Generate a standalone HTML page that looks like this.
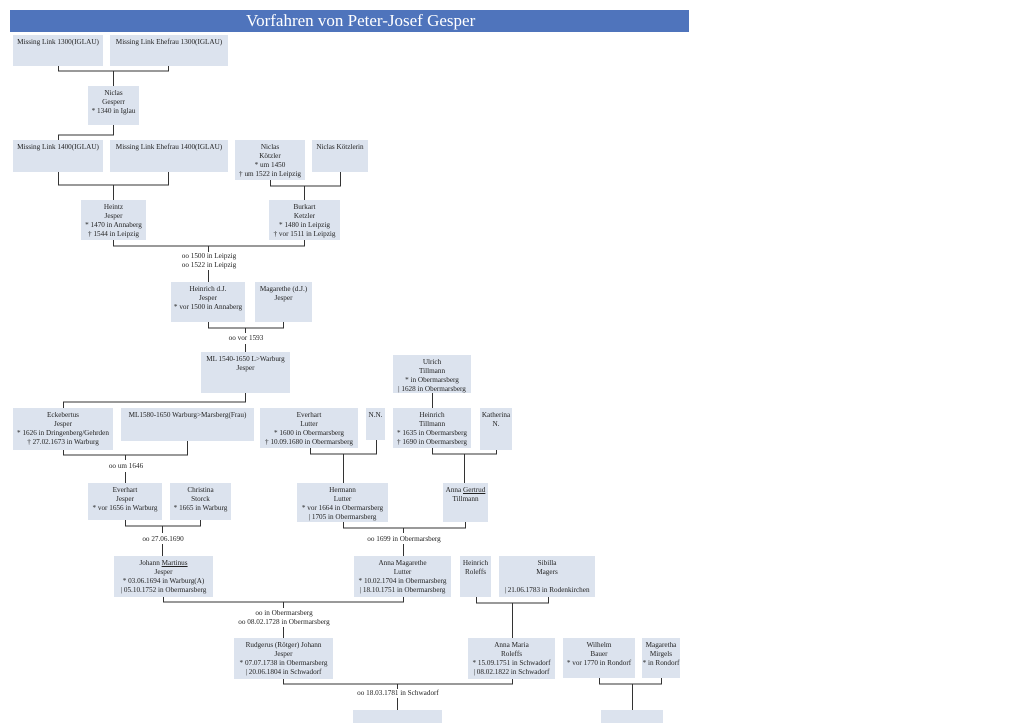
<!DOCTYPE html>
<html><head><meta charset="utf-8"><style>
body{margin:0;background:#fff;width:1024px;height:723px;position:relative;overflow:hidden;font-family:"Liberation Serif",serif;}
.h{position:absolute;left:10px;top:10px;width:679px;height:22px;background:#4f74bc;}
.h span{position:absolute;left:236px;top:1px;color:#fff;font-size:17px;}
.b{position:absolute;background:#dce3ee;font-size:7.2px;line-height:9px;text-align:center;color:#222;padding-top:3px;box-sizing:border-box;white-space:nowrap;}
.l{position:absolute;font-size:7.2px;line-height:9px;text-align:center;color:#222;white-space:nowrap;transform:translateX(-50%);background:#fff;}
svg{position:absolute;left:0;top:0;}
</style></head><body>
<div class="h"><span>Vorfahren von Peter-Josef Gesper</span></div>
<svg width="1024" height="723" stroke="#333" stroke-width="1" fill="none">
<path d="M58.5 66v5h110v-5M113.5 71v15"/>
<path d="M113.5 125v10h-55v5"/>
<path d="M58.5 172v13h110v-13M113.5 185v15"/>
<path d="M270.5 180v6h70v-14M304.5 186v14"/>
<path d="M113.5 240v6h191v-6M208.5 246v6M208.5 270v12"/>
<path d="M208.5 322v6h75v-6M245.5 328v5M245.5 344v8"/>
<path d="M245.5 393v9h-182v6"/>
<path d="M432.5 393v15"/>
<path d="M63.5 450v5h124v-14M125.5 455v5M125.5 472v11"/>
<path d="M310.5 448v6h66v-14M343.5 454v29"/>
<path d="M432.5 448v6h64v-4M464.5 454v29"/>
<path d="M125.5 520v6h75v-6M162.5 526v7M162.5 544v12"/>
<path d="M343.5 522v6h122v-6M403.5 528v5M403.5 544v12"/>
<path d="M163.5 597v5h240v-5M283.5 602v6M283.5 627v11"/>
<path d="M476.5 597v6h72v-6M512.5 603v35"/>
<path d="M283.5 679v5h229v-5M397.5 684v5M397.5 698v12"/>
<path d="M599.5 678v6h62v-6M632.5 684v26"/>
</svg>
<div class="b" style="left:13px;top:35px;width:90px;height:31px">Missing Link 1300(IGLAU)</div>
<div class="b" style="left:110px;top:35px;width:118px;height:31px">Missing Link Ehefrau 1300(IGLAU)</div>
<div class="b" style="left:88px;top:86px;width:51px;height:39px">Niclas<br>Gesperr<br>* 1340 in Iglau</div>
<div class="b" style="left:13px;top:140px;width:90px;height:32px">Missing Link 1400(IGLAU)</div>
<div class="b" style="left:110px;top:140px;width:118px;height:32px">Missing Link Ehefrau 1400(IGLAU)</div>
<div class="b" style="left:235px;top:140px;width:70px;height:40px">Niclas<br>Kötzler<br>* um 1450<br>† um 1522 in Leipzig</div>
<div class="b" style="left:312px;top:140px;width:56px;height:32px">Niclas Kötzlerin</div>
<div class="b" style="left:81px;top:200px;width:65px;height:40px">Heintz<br>Jesper<br>* 1470 in Annaberg<br>† 1544 in Leipzig</div>
<div class="b" style="left:269px;top:200px;width:71px;height:40px">Burkart<br>Ketzler<br>* 1480 in Leipzig<br>† vor 1511 in Leipzig</div>
<div class="l" style="left:209px;top:252px">oo 1500 in Leipzig<br>oo 1522 in Leipzig</div>
<div class="b" style="left:171px;top:282px;width:74px;height:40px">Heinrich d.J.<br>Jesper<br>* vor 1500 in Annaberg</div>
<div class="b" style="left:255px;top:282px;width:57px;height:40px">Magarethe (d.J.)<br>Jesper</div>
<div class="l" style="left:246px;top:334px">oo vor 1593</div>
<div class="b" style="left:201px;top:352px;width:89px;height:41px">ML 1540-1650 L&gt;Warburg<br>Jesper</div>
<div class="b" style="left:393px;top:355px;width:78px;height:38px">Ulrich<br>Tillmann<br>* in Obermarsberg<br>| 1628 in Obermarsberg</div>
<div class="b" style="left:13px;top:408px;width:100px;height:42px">Eckebertus<br>Jesper<br>* 1626 in Dringenberg/Gehrden<br>† 27.02.1673 in Warburg</div>
<div class="b" style="left:121px;top:408px;width:133px;height:33px">ML1580-1650 Warburg&gt;Marsberg(Frau)</div>
<div class="b" style="left:260px;top:408px;width:98px;height:40px">Everhart<br>Lutter<br>* 1600 in Obermarsberg<br>† 10.09.1680 in Obermarsberg</div>
<div class="b" style="left:366px;top:408px;width:19px;height:32px">N.N.</div>
<div class="b" style="left:393px;top:408px;width:78px;height:40px">Heinrich<br>Tillmann<br>* 1635 in Obermarsberg<br>† 1690 in Obermarsberg</div>
<div class="b" style="left:480px;top:408px;width:32px;height:42px">Katherina<br>N.</div>
<div class="l" style="left:126px;top:462px">oo um 1646</div>
<div class="b" style="left:88px;top:483px;width:74px;height:37px">Everhart<br>Jesper<br>* vor 1656 in Warburg</div>
<div class="b" style="left:170px;top:483px;width:61px;height:37px">Christina<br>Storck<br>* 1665 in Warburg</div>
<div class="b" style="left:297px;top:483px;width:91px;height:39px">Hermann<br>Lutter<br>* vor 1664 in Obermarsberg<br>| 1705 in Obermarsberg</div>
<div class="b" style="left:443px;top:483px;width:45px;height:39px">Anna <u>Gertrud</u><br>Tillmann</div>
<div class="l" style="left:163px;top:535px">oo 27.06.1690</div>
<div class="l" style="left:404px;top:535px">oo 1699 in Obermarsberg</div>
<div class="b" style="left:114px;top:556px;width:99px;height:41px">Johann <u>Martinus</u><br>Jesper<br>* 03.06.1694 in Warburg(A)<br>| 05.10.1752 in Obermarsberg</div>
<div class="b" style="left:354px;top:556px;width:97px;height:41px">Anna Magarethe<br>Lutter<br>* 10.02.1704 in Obermarsberg<br>| 18.10.1751 in Obermarsberg</div>
<div class="b" style="left:460px;top:556px;width:31px;height:41px">Heinrich<br>Roleffs</div>
<div class="b" style="left:499px;top:556px;width:96px;height:41px">Sibilla<br>Magers<br><br>| 21.06.1783 in Rodenkirchen</div>
<div class="l" style="left:284px;top:609px">oo in Obermarsberg<br>oo 08.02.1728 in Obermarsberg</div>
<div class="b" style="left:234px;top:638px;width:99px;height:41px">Rudgerus (Rötger) Johann<br>Jesper<br>* 07.07.1738 in Obermarsberg<br>| 20.06.1804 in Schwadorf</div>
<div class="b" style="left:468px;top:638px;width:87px;height:41px">Anna Maria<br>Roleffs<br>* 15.09.1751 in Schwadorf<br>| 08.02.1822 in Schwadorf</div>
<div class="b" style="left:563px;top:638px;width:72px;height:40px">Wilhelm<br>Bauer<br>* vor 1770 in Rondorf</div>
<div class="b" style="left:642px;top:638px;width:38px;height:40px">Magaretha<br>Mirgels<br>* in Rondorf</div>
<div class="l" style="left:398px;top:689px">oo 18.03.1781 in Schwadorf</div>
<div class="b" style="left:353px;top:710px;width:89px;height:13px;padding:0"></div>
<div class="b" style="left:601px;top:710px;width:62px;height:13px;padding:0"></div>
</body></html>
